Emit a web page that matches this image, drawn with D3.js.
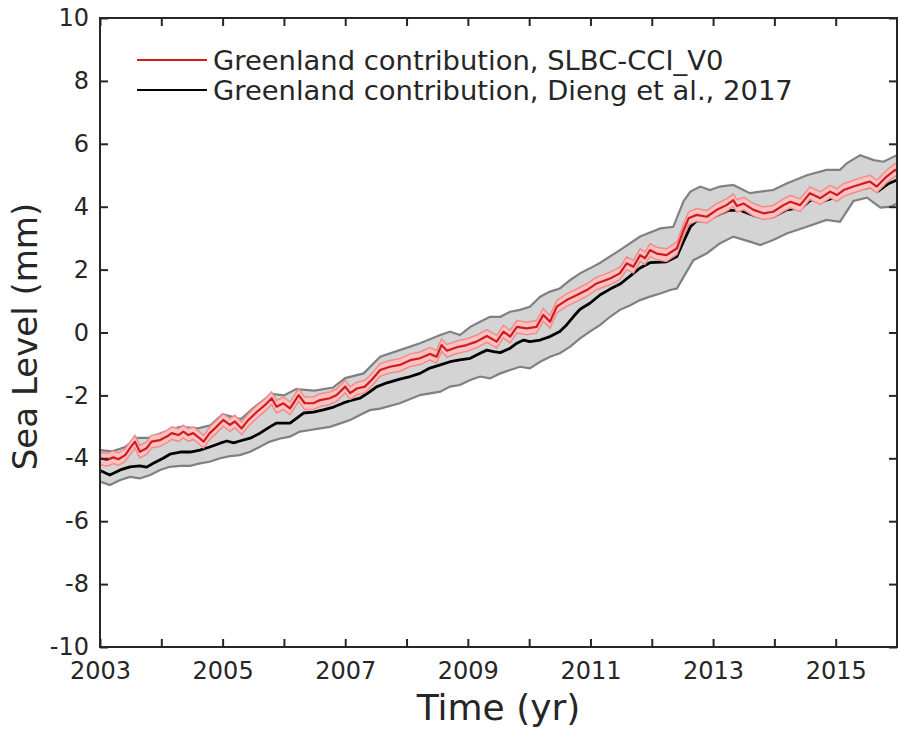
<!DOCTYPE html>
<html>
<head>
<meta charset="utf-8">
<script src="https://cdn.jsdelivr.net/npm/d3@7"></script>
<style>
  body { margin: 0; background: #fff; }
  text { font-family: "DejaVu Sans", sans-serif; fill: #262626; }
</style>
</head>
<body>
<div id="chart"></div>
<script>
// [year, mm]
var slbcSeries = [
  [2003.00,-4.00],[2003.11,-4.05],[2003.22,-3.97],[2003.30,-4.03],[2003.41,-3.90],[2003.49,-3.68],
  [2003.57,-3.47],[2003.65,-3.79],[2003.76,-3.68],[2003.84,-3.47],[2003.98,-3.42],[2004.09,-3.31],
  [2004.17,-3.20],[2004.28,-3.26],[2004.36,-3.15],[2004.44,-3.26],[2004.52,-3.20],[2004.63,-3.37],
  [2004.69,-3.47],[2004.79,-3.20],[2004.90,-3.00],[2005.01,-2.78],[2005.12,-2.94],[2005.20,-2.83],
  [2005.31,-3.05],[2005.42,-2.78],[2005.56,-2.52],[2005.69,-2.31],[2005.80,-2.09],[2005.88,-2.36],
  [2005.99,-2.25],[2006.10,-2.41],[2006.24,-1.99],[2006.34,-2.25],[2006.48,-2.25],[2006.59,-2.15],
  [2006.75,-2.09],[2006.86,-1.99],[2007.00,-1.72],[2007.08,-1.93],[2007.19,-1.78],[2007.32,-1.72],
  [2007.43,-1.51],[2007.57,-1.19],[2007.73,-1.09],[2007.89,-1.03],[2008.06,-0.88],[2008.22,-0.82],
  [2008.38,-0.68],[2008.49,-0.77],[2008.57,-0.40],[2008.66,-0.58],[2008.82,-0.47],[2008.98,-0.40],
  [2009.14,-0.29],[2009.31,-0.11],[2009.47,-0.29],[2009.58,0.03],[2009.69,-0.13],[2009.80,0.18],
  [2009.96,0.13],[2010.12,0.18],[2010.23,0.56],[2010.34,0.34],[2010.45,0.82],[2010.61,1.03],
  [2010.78,1.19],[2010.94,1.35],[2011.10,1.56],[2011.32,1.72],[2011.48,1.88],[2011.59,2.20],
  [2011.70,2.09],[2011.81,2.46],[2011.89,2.36],[2011.97,2.62],[2012.08,2.51],[2012.24,2.46],
  [2012.41,2.68],[2012.52,3.26],[2012.60,3.63],[2012.73,3.74],[2012.90,3.68],[2013.06,3.90],
  [2013.22,4.05],[2013.33,4.21],[2013.39,4.02],[2013.50,4.10],[2013.66,3.90],[2013.82,3.79],
  [2013.98,3.84],[2014.15,4.05],[2014.26,4.16],[2014.42,4.05],[2014.58,4.43],[2014.75,4.27],
  [2014.91,4.48],[2015.02,4.37],[2015.13,4.53],[2015.29,4.64],[2015.45,4.74],[2015.56,4.80],
  [2015.67,4.64],[2015.83,4.96],[2015.97,5.17],[2016.00,5.15]
];
var slbcUnc = 0.2;

var diengSeries = [
  [2003.00,-4.39],[2003.16,-4.53],[2003.33,-4.37],[2003.49,-4.27],[2003.65,-4.24],[2003.76,-4.28],
  [2003.87,-4.16],[2004.03,-4.00],[2004.14,-3.87],[2004.31,-3.80],[2004.47,-3.80],[2004.63,-3.74],
  [2004.79,-3.64],[2004.96,-3.52],[2005.07,-3.45],[2005.18,-3.51],[2005.28,-3.45],[2005.45,-3.36],
  [2005.61,-3.20],[2005.77,-3.00],[2005.88,-2.88],[2005.99,-2.88],[2006.10,-2.88],[2006.21,-2.72],
  [2006.32,-2.56],[2006.48,-2.53],[2006.64,-2.46],[2006.81,-2.37],[2006.97,-2.24],[2007.08,-2.17],
  [2007.24,-2.09],[2007.40,-1.89],[2007.51,-1.73],[2007.68,-1.60],[2007.89,-1.48],[2008.06,-1.40],
  [2008.22,-1.30],[2008.38,-1.13],[2008.55,-1.03],[2008.71,-0.93],[2008.87,-0.87],[2009.04,-0.82],
  [2009.20,-0.66],[2009.31,-0.56],[2009.42,-0.61],[2009.53,-0.64],[2009.69,-0.50],[2009.80,-0.34],
  [2009.91,-0.24],[2010.01,-0.29],[2010.18,-0.24],[2010.34,-0.13],[2010.50,0.03],[2010.61,0.24],
  [2010.72,0.50],[2010.83,0.74],[2010.99,0.93],[2011.16,1.20],[2011.32,1.38],[2011.49,1.55],
  [2011.65,1.80],[2011.81,2.05],[2011.97,2.22],[2012.24,2.25],[2012.41,2.42],[2012.52,2.90],
  [2012.63,3.36],[2012.73,3.55],[2012.90,3.55],[2013.06,3.72],[2013.25,3.88],[2013.45,3.88],
  [2013.66,3.72],[2013.85,3.65],[2014.00,3.70],[2014.20,3.90],[2014.45,3.98],[2014.60,4.22],
  [2014.80,4.18],[2015.00,4.30],[2015.20,4.42],[2015.45,4.58],[2015.60,4.62],[2015.70,4.50],
  [2015.85,4.72],[2016.00,4.85]
];

var bandUpper = [
  [2003.00,-3.74],[2003.20,-3.78],[2003.40,-3.65],[2003.60,-3.35],[2003.80,-3.35],[2004.00,-3.20],
  [2004.30,-3.00],[2004.60,-3.05],[2004.80,-2.95],[2005.00,-2.60],[2005.30,-2.75],[2005.50,-2.40],
  [2005.80,-1.95],[2006.00,-2.00],[2006.20,-1.80],[2006.50,-1.85],[2006.80,-1.75],[2007.00,-1.45],
  [2007.30,-1.30],[2007.57,-0.77],[2007.89,-0.56],[2008.22,-0.34],[2008.55,-0.08],[2008.71,0.03],
  [2008.87,-0.08],[2009.04,0.18],[2009.20,0.34],[2009.36,0.50],[2009.53,0.50],[2009.69,0.66],
  [2009.85,0.72],[2010.01,0.82],[2010.18,1.14],[2010.34,1.30],[2010.50,1.40],[2010.67,1.67],
  [2010.83,1.88],[2010.99,2.04],[2011.16,2.22],[2011.48,2.62],[2011.81,3.05],[2012.14,3.31],
  [2012.35,3.36],[2012.52,4.18],[2012.63,4.48],[2012.79,4.64],[2012.95,4.53],[2013.11,4.64],
  [2013.33,4.69],[2013.60,4.43],[2013.77,4.48],[2013.98,4.53],[2014.20,4.74],[2014.53,5.00],
  [2014.85,5.17],[2015.07,5.17],[2015.18,5.38],[2015.40,5.64],[2015.62,5.48],[2015.78,5.43],
  [2016.00,5.64]
];

var bandLower = [
  [2003.00,-4.74],[2003.16,-4.85],[2003.33,-4.69],[2003.49,-4.59],[2003.65,-4.64],[2003.82,-4.53],
  [2003.98,-4.37],[2004.14,-4.27],[2004.31,-4.24],[2004.47,-4.24],[2004.63,-4.16],[2004.79,-4.11],
  [2004.96,-4.00],[2005.12,-3.93],[2005.28,-3.90],[2005.45,-3.79],[2005.61,-3.63],[2005.77,-3.47],
  [2005.94,-3.37],[2006.10,-3.31],[2006.26,-3.15],[2006.43,-3.10],[2006.59,-3.05],[2006.75,-3.00],
  [2006.92,-2.89],[2007.08,-2.78],[2007.24,-2.62],[2007.40,-2.47],[2007.57,-2.42],[2007.89,-2.25],
  [2008.22,-1.99],[2008.55,-1.88],[2008.71,-1.72],[2008.87,-1.67],[2009.04,-1.51],[2009.20,-1.40],
  [2009.36,-1.46],[2009.53,-1.30],[2009.69,-1.19],[2009.85,-1.09],[2010.01,-1.14],[2010.18,-0.93],
  [2010.34,-0.77],[2010.50,-0.66],[2010.67,-0.45],[2010.83,-0.19],[2010.99,0.03],[2011.16,0.24],
  [2011.32,0.50],[2011.48,0.72],[2011.65,0.87],[2011.81,1.03],[2011.97,1.14],[2012.14,1.24],
  [2012.30,1.35],[2012.41,1.40],[2012.52,1.77],[2012.68,2.30],[2012.90,2.52],[2013.11,2.83],
  [2013.33,3.05],[2013.60,2.89],[2013.77,2.78],[2013.98,2.94],[2014.20,3.15],[2014.53,3.36],
  [2014.85,3.58],[2015.07,3.52],[2015.29,4.18],[2015.51,4.29],[2015.73,3.97],[2015.90,4.00],
  [2016.00,4.10]
];

var yearTicks = [2003,2004,2005,2006,2007,2008,2009,2010,2011,2012,2013,2014,2015,2016];
var yearLabels = [2003,2005,2007,2009,2011,2013,2015];
var levelTicks = [-10,-8,-6,-4,-2,0,2,4,6,8,10];
var legendNames = ["Greenland contribution, SLBC-CCI_V0", "Greenland contribution, Dieng et al., 2017"];

var W = 898, H = 731;
var m = {left: 100, right: 1, top: 18, bottom: 84};
var pw = W - m.left - m.right, ph = H - m.top - m.bottom;

var svg = d3.select('#chart').append('svg')
  .attr('width', W).attr('height', H);

var x = d3.scaleLinear().domain([2003, 2016]).range([0, pw]);
var y = d3.scaleLinear().domain([-10, 10]).range([ph, 0]);

var g = svg.append('g').attr('transform', 'translate(' + m.left + ',' + m.top + ')');

g.append('clipPath').attr('id', 'clip')
  .append('rect').attr('width', pw).attr('height', ph);

var plot = g.append('g').attr('clip-path', 'url(#clip)');

var line = d3.line().x(function(d) { return x(d[0]); }).y(function(d) { return y(d[1]); });

// grey uncertainty envelope
plot.append('path')
  .attr('d', line(bandUpper.concat(bandLower.slice().reverse())) + 'Z')
  .attr('fill', '#d4d4d4');
[bandUpper, bandLower].forEach(function(b) {
  plot.append('path').attr('d', line(b))
    .attr('fill', 'none').attr('stroke', '#808080').attr('stroke-width', 2.2);
});

plot.append('path').attr('d', line(diengSeries))
  .attr('fill', 'none').attr('stroke', '#000').attr('stroke-width', 2.8)
  .attr('stroke-linejoin', 'round');

// pink band around SLBC
var area = d3.area()
  .x(function(d) { return x(d[0]); })
  .y0(function(d) { return y(d[1] - slbcUnc); })
  .y1(function(d) { return y(d[1] + slbcUnc); });
plot.append('path').attr('d', area(slbcSeries)).attr('fill', '#fbc2c2');
[slbcUnc, -slbcUnc].forEach(function(u) {
  plot.append('path')
    .attr('d', d3.line().x(function(d) { return x(d[0]); }).y(function(d) { return y(d[1] + u); })(slbcSeries))
    .attr('fill', 'none').attr('stroke', '#f08c8c').attr('stroke-width', 1.5);
});
plot.append('path').attr('d', line(slbcSeries))
  .attr('fill', 'none').attr('stroke', '#d11a1f').attr('stroke-width', 2.2)
  .attr('stroke-linejoin', 'round');

// axes
function fmtYear(d) { return yearLabels.indexOf(d) >= 0 ? String(d) : ''; }

var xb = g.append('g').attr('transform', 'translate(0,' + ph + ')')
  .call(d3.axisBottom(x).tickValues(yearTicks).tickFormat(fmtYear)
    .tickSizeInner(-8).tickSizeOuter(0).tickPadding(15));
var xt = g.append('g')
  .call(d3.axisTop(x).tickValues(yearTicks).tickFormat('')
    .tickSizeInner(-8).tickSizeOuter(0));
var yl = g.append('g')
  .call(d3.axisLeft(y).tickValues(levelTicks).tickFormat(function(d) { return String(d); })
    .tickSizeInner(-8).tickSizeOuter(0).tickPadding(11));
var yr = g.append('g').attr('transform', 'translate(' + pw + ',0)')
  .call(d3.axisRight(y).tickValues(levelTicks).tickFormat('')
    .tickSizeInner(-8).tickSizeOuter(0));

[xb, xt, yl, yr].forEach(function(a) {
  a.select('.domain').remove();
  a.selectAll('.tick line').attr('stroke', '#262626').attr('stroke-width', 2);
  a.selectAll('.tick text').attr('fill', '#262626').style('font-size', '24px')
    .style('font-family', '"DejaVu Sans", sans-serif');
});

g.append('rect').attr('width', pw).attr('height', ph)
  .attr('fill', 'none').attr('stroke', '#262626').attr('stroke-width', 2);

// axis titles
svg.append('text')
  .attr('x', m.left + pw / 2).attr('y', 720)
  .attr('text-anchor', 'middle').style('font-size', '36px')
  .text('Time (yr)');
svg.append('text')
  .attr('transform', 'translate(37,' + (m.top + ph / 2 + 4) + ') rotate(-90)')
  .attr('text-anchor', 'middle').style('font-size', '34px')
  .text('Sea Level (mm)');

// legend
var legendColors = ['#d11a1f', '#000'];
var leg = svg.append('g');
legendNames.forEach(function(name, i) {
  var ly = 60 + i * 30;
  leg.append('line').attr('x1', 137).attr('x2', 207).attr('y1', ly).attr('y2', ly)
    .attr('stroke', legendColors[i]).attr('stroke-width', 2);
  leg.append('text').attr('x', 213).attr('y', ly).attr('dy', '0.36em')
    .style('font-size', '27.4px').text(name);
});
</script>
</body>
</html>
